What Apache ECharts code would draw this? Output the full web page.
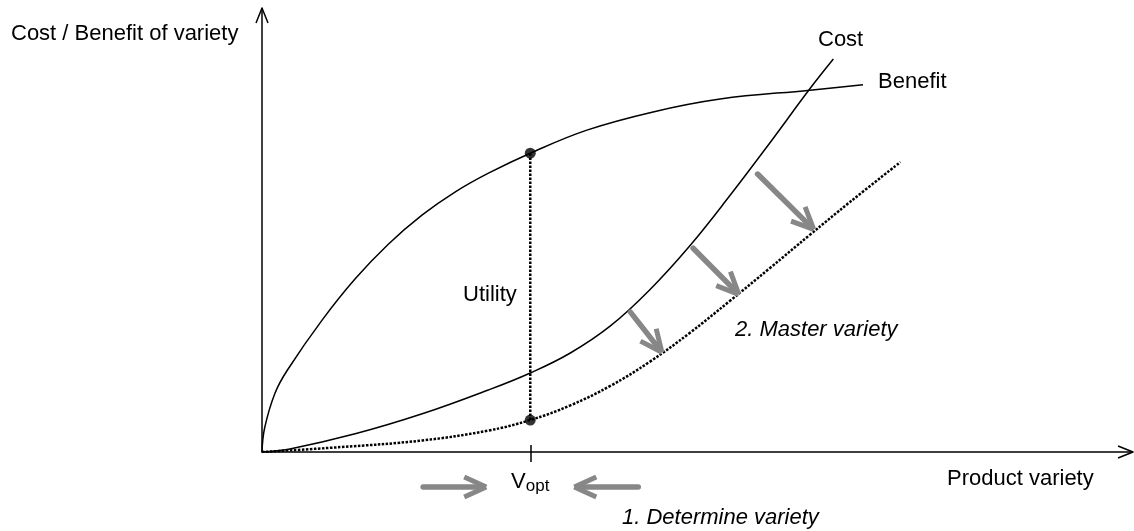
<!DOCTYPE html>
<html>
<head>
<meta charset="utf-8">
<title>Cost / Benefit of variety</title>
<script src="https://cdn.jsdelivr.net/npm/echarts@6/dist/echarts.min.js"></script>
<style>
  html, body { margin: 0; padding: 0; background: #fff; }
  #chart { width: 1134px; height: 531px; }
</style>
</head>
<body>
<div id="chart"></div>
<script>
// both axes run 0..100 (product variety / cost-benefit)
var vOpt = 30.8

var benefitX = [0, 0.3, 1.5, 3.0, 6.9, 10.7, 14.5, 18.4, 22.2, 26.0, 30.8, 37.3, 44.9, 52.6, 62.9, 69.0]
var benefitY = [0, 5.4, 13.3, 18.7, 29.7, 39.0, 46.8, 53.4, 58.6, 62.8, 67.3, 72.5, 76.6, 79.5, 81.5, 82.7]

var costX = [0, 3.2, 10.7, 18.4, 25.9, 30.8, 35.4, 40.0, 44.5, 49.1, 53.7, 58.3, 62.9, 65.6]
var costY = [0, 0.7, 4.1, 8.6, 13.9, 17.8, 22.3, 28.4, 36.5, 46.4, 57.7, 69.6, 81.8, 88.5]

// cost curve after "mastering" variety (dotted)
var masterX = [0, 9.0, 18.4, 25.9, 30.8, 35.4, 40.0, 44.5, 49.1, 53.7, 58.3, 62.9, 67.5, 73.3]
var masterY = [0, 1.1, 2.6, 4.8, 7.2, 10.5, 14.9, 20.3, 26.8, 34.0, 41.4, 48.9, 56.3, 65.3]

// grey arrows pushing the cost curve down: [fromX, fromY, toX, toY]
var masterArrows = [
  [42.3, 31.5, 45.7, 23.0],
  [49.5, 45.9, 54.5, 36.0],
  [56.9, 62.6, 63.1, 50.6]
]
// grey arrows under the axis pointing at V_opt (y below zero)
var determineArrows = [
  [18.5, -7.9, 25.4, -7.9],
  [43.2, -7.9, 36.2, -7.9]
]

var FONT = '"Liberation Sans", Arial, sans-serif'
var GREY = '#878787'

// open chevrons, tip sits on the symbol centre
var AXIS_HEAD = 'path://M6.7,-15M7.39,0L13.39,15L12,15.56L6,0.56ZM7.39,0.56L1.39,15.56L0,15L6,0Z'
var AXIS_HEAD_SIZE = [13.39, 30.56]
var GREY_HEAD = 'path://M12.28,-16M14.56,0L24.56,22L20,24.06L10,2.06ZM14.56,2.06L4.56,24.06L0,22L10,0Z'
var GREY_HEAD_SIZE = [24.56, 40.06]

function zip(xs, ys) {
  return xs.map(function (x, i) { return [x, ys[i]] })
}
function arrowLines(list) {
  return list.map(function (a) {
    return [{ coord: [a[0], a[1]] }, { coord: [a[2], a[3]] }]
  })
}

var utilityLow = masterY[masterX.indexOf(vOpt)]
var utilityHigh = benefitY[benefitX.indexOf(vOpt)]

var chart = echarts.init(document.getElementById('chart'))

var axisLineStyle = { color: '#000', width: 1.5 }

var option = {
  animation: false,
  textStyle: { fontFamily: FONT },
  grid: [
    { left: 262, right: 1, top: 8, bottom: 79 },
    { left: 262, right: 1, top: 452, bottom: 0 }
  ],
  xAxis: [
    {
      gridIndex: 0, type: 'value', min: 0, max: 100,
      splitLine: { show: false },
      axisLine: { show: true, lineStyle: axisLineStyle, symbol: ['none', AXIS_HEAD], symbolSize: AXIS_HEAD_SIZE },
      axisTick: { show: true, customValues: [vOpt], length: 10, lineStyle: axisLineStyle },
      axisLabel: {
        show: true,
        customValues: [vOpt],
        margin: 19,
        formatter: function () { return '{v|V}{s|opt}' },
        rich: {
          v: { fontSize: 22, lineHeight: 22, color: '#000', fontFamily: FONT },
          s: { fontSize: 17, lineHeight: 17, color: '#000', fontFamily: FONT, padding: [9, 0, 0, 0] }
        }
      }
    },
    {
      // upper half of the V_opt tick
      gridIndex: 0, type: 'value', min: 0, max: 100, position: 'bottom',
      splitLine: { show: false },
      axisLine: { show: false },
      axisLabel: { show: false },
      axisTick: { show: true, inside: true, customValues: [vOpt], length: 7, lineStyle: axisLineStyle }
    },
    { gridIndex: 1, type: 'value', min: 0, max: 100, show: false }
  ],
  yAxis: [
    {
      gridIndex: 0, type: 'value', min: 0, max: 100,
      splitLine: { show: false },
      axisTick: { show: false },
      axisLabel: { show: false },
      axisLine: { show: true, lineStyle: axisLineStyle, symbol: ['none', AXIS_HEAD], symbolSize: AXIS_HEAD_SIZE }
    },
    { gridIndex: 1, type: 'value', min: -17.8, max: 0, show: false }
  ],
  series: [
    {
      name: 'Benefit', type: 'line', data: zip(benefitX, benefitY),
      showSymbol: false, smooth: 0.4, silent: true,
      lineStyle: { color: '#000', width: 1.5 }
    },
    {
      name: 'Cost', type: 'line', data: zip(costX, costY),
      showSymbol: false, smooth: 0.4, silent: true,
      lineStyle: { color: '#000', width: 1.5 }
    },
    {
      name: 'Master variety', type: 'line', data: zip(masterX, masterY),
      showSymbol: false, smooth: 0.4, silent: true,
      lineStyle: { color: '#000', width: 2.5, type: [2.5, 1.5] },
      markLine: {
        silent: true, animation: false,
        symbol: ['none', GREY_HEAD], symbolSize: GREY_HEAD_SIZE,
        label: { show: false },
        lineStyle: { color: GREY, width: 5.5, type: 'solid', cap: 'round' },
        emphasis: { disabled: true },
        data: arrowLines(masterArrows)
      }
    },
    {
      name: 'Utility', type: 'line', data: [[vOpt, utilityLow], [vOpt, utilityHigh]],
      showSymbol: false, silent: true,
      lineStyle: { color: '#000', width: 2.5, type: [2.5, 1.5] }
    },
    {
      name: 'Utility ends', type: 'scatter', data: [[vOpt, utilityLow], [vOpt, utilityHigh]],
      symbolSize: 11, silent: true, z: 5,
      itemStyle: { color: '#000' }
    },
    {
      name: 'Determine variety', type: 'line', xAxisIndex: 2, yAxisIndex: 1, data: [],
      silent: true,
      markLine: {
        silent: true, animation: false,
        symbol: ['none', GREY_HEAD], symbolSize: GREY_HEAD_SIZE,
        label: { show: false },
        lineStyle: { color: GREY, width: 5.5, type: 'solid', cap: 'round' },
        emphasis: { disabled: true },
        data: arrowLines(determineArrows)
      }
    }
  ],
  graphic: [
    { type: 'text', x: 11, y: 34, style: { text: 'Cost / Benefit of variety', font: '22px ' + FONT, fill: '#000', align: 'left', verticalAlign: 'middle' } },
    { type: 'text', x: 818, y: 40, style: { text: 'Cost', font: '22px ' + FONT, fill: '#000', align: 'left', verticalAlign: 'middle' } },
    { type: 'text', x: 878, y: 81.5, style: { text: 'Benefit', font: '22px ' + FONT, fill: '#000', align: 'left', verticalAlign: 'middle' } },
    { type: 'text', x: 463, y: 295, style: { text: 'Utility', font: '22px ' + FONT, fill: '#000', align: 'left', verticalAlign: 'middle' } },
    { type: 'text', x: 735, y: 330, style: { text: '2. Master variety', font: 'italic 22px ' + FONT, fill: '#000', align: 'left', verticalAlign: 'middle' } },
    { type: 'text', x: 622, y: 518, style: { text: '1. Determine variety', font: 'italic 22px ' + FONT, fill: '#000', align: 'left', verticalAlign: 'middle' } },
    { type: 'text', x: 947, y: 479, style: { text: 'Product variety', font: '22px ' + FONT, fill: '#000', align: 'left', verticalAlign: 'middle' } }
  ]
}

chart.setOption(option)
</script>
</body>
</html>
